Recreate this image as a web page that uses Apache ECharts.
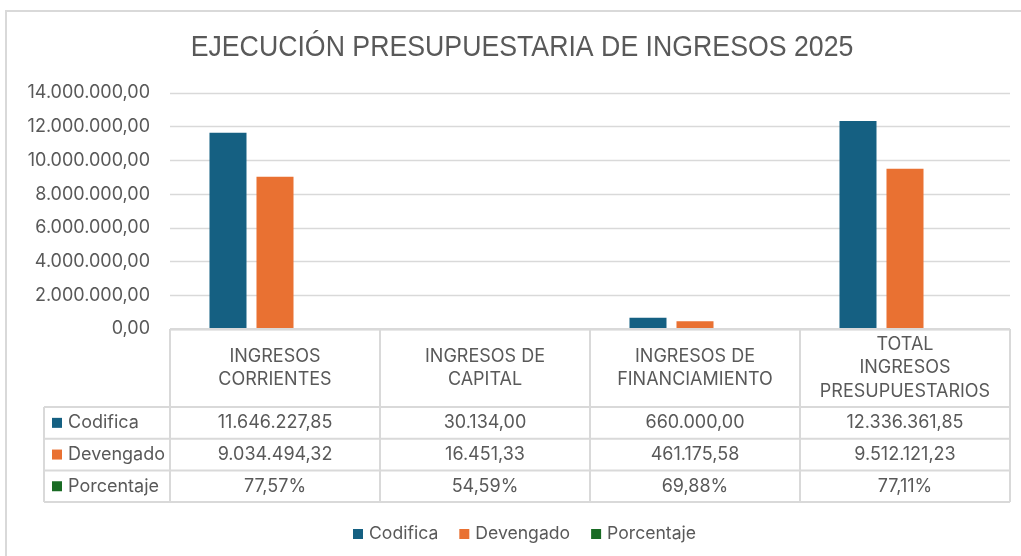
<!DOCTYPE html>
<html>
<head>
<meta charset="utf-8">
<script src="https://cdn.jsdelivr.net/npm/echarts@6/dist/echarts.min.js"></script>
<style>
  html, body { margin: 0; padding: 0; background: #fff; }
  #main { width: 1021px; height: 556px; }
</style>
</head>
<body>
<div id="main"></div>
<script>
// data
const categories = ['INGRESOS\nCORRIENTES', 'INGRESOS DE\nCAPITAL', 'INGRESOS DE\nFINANCIAMIENTO', 'TOTAL\nINGRESOS\nPRESUPUESTARIOS'];
const codifica = [11646227.85, 30134.00, 660000.00, 12336361.85];
const devengado = [9034494.32, 16451.33, 461175.58, 9512121.23];
const porcentaje = [0.7757, 0.5459, 0.6988, 0.7711];
const seriesNames = ['Codifica', 'Devengado', 'Porcentaje'];
const colors = ['#156082', '#E97132', '#196B24'];
const yMax = 14000000;
const yStep = 2000000;
const titleText = 'EJECUCIÓN PRESUPUESTARIA DE INGRESOS 2025';

const TXT = '#595959';
const LINE = '#d9d9d9';
const FONT = 'Inter, sans-serif';
const FS = 18;

function fmtNum(v) {
  const [i, d] = Math.abs(v).toFixed(2).split('.');
  return i.replace(/\B(?=(\d{3})+(?!\d))/g, '.') + ',' + d;
}
function fmtPct(v) {
  return (v * 100).toFixed(2).replace('.', ',') + '%';
}

const chart = echarts.init(document.getElementById('main'));
const values = [codifica, devengado, porcentaje];

chart.setOption({
  backgroundColor: '#fff',
  animation: false,
  color: colors,
  legend: {
    data: seriesNames,
    left: 348,
    top: 520,
    icon: 'rect',
    itemWidth: 10,
    itemHeight: 10,
    itemGap: 21,
    textStyle: { color: TXT, fontSize: 17.6, fontFamily: FONT, padding: [0, 0, 0, 1] }
  },
  grid: { left: 170, right: 11, top: 93, bottom: 227, containLabel: false },
  xAxis: {
    type: 'category',
    data: categories,
    axisLine: { show: false },
    axisTick: { show: false },
    axisLabel: { show: false }
  },
  yAxis: {
    type: 'value',
    min: 0,
    max: yMax,
    interval: yStep,
    axisLine: { show: false },
    axisTick: { show: false },
    axisLabel: { color: TXT, fontSize: FS, fontFamily: FONT, margin: 20, formatter: fmtNum },
    splitLine: { lineStyle: { color: LINE, width: 1.3 } }
  },
  series: seriesNames.map((name, k) => ({
    name,
    type: 'bar',
    data: values[k],
    barGap: '27%',
    barCategoryGap: '37.6%'
  }))
});

// data table under the axis, positioned from the category axis
const c0 = chart.convertToPixel({ xAxisIndex: 0 }, 0);
const c1 = chart.convertToPixel({ xAxisIndex: 0 }, 1);
const band = c1 - c0;
const x0 = c0 - band / 2;
const xEnd = x0 + band * categories.length;
const yTop = chart.convertToPixel({ yAxisIndex: 0 }, 0);
const headH = 78;
const rowH = 31.7;
const tableLeft = 44;
const rowsTop = yTop + headH;
const rowsBottom = rowsTop + rowH * seriesNames.length;

const g = [];
const line = (x1, y1, x2, y2, w) => g.push({
  type: 'line', silent: true, z: 10,
  shape: { x1, y1, x2, y2 },
  style: { stroke: LINE, lineWidth: w || 2 }
});

line(x0, yTop + 0.2, xEnd, yTop + 0.2, 2.6);
for (let r = 0; r <= seriesNames.length; r++) {
  line(tableLeft, rowsTop + r * rowH, xEnd, rowsTop + r * rowH);
}
line(tableLeft, rowsTop, tableLeft, rowsBottom);
for (let i = 0; i <= categories.length; i++) {
  line(x0 + i * band, yTop, x0 + i * band, rowsBottom);
}

categories.forEach((cat, i) => {
  g.push({
    type: 'text', silent: true, z: 10,
    style: {
      text: cat, x: x0 + band * (i + 0.5), y: yTop + headH / 2,
      align: 'center', verticalAlign: 'middle',
      fill: TXT, fontSize: FS, fontFamily: FONT, lineHeight: 23.5
    }
  });
});

seriesNames.forEach((name, r) => {
  const cy = rowsTop + rowH * (r + 0.5);
  g.push({
    type: 'rect', silent: true, z: 10,
    shape: { x: 52, y: cy - 5, width: 10, height: 10 },
    style: { fill: colors[r] }
  });
  g.push({
    type: 'text', silent: true, z: 10,
    style: { text: name, x: 68, y: cy, align: 'left', verticalAlign: 'middle', fill: TXT, fontSize: FS, fontFamily: FONT }
  });
  values[r].forEach((v, i) => {
    g.push({
      type: 'text', silent: true, z: 10,
      style: {
        text: r === 2 ? fmtPct(v) : fmtNum(v),
        x: x0 + band * (i + 0.5), y: cy,
        align: 'center', verticalAlign: 'middle',
        fill: TXT, fontSize: FS, fontFamily: FONT
      }
    });
  });
});

// title, horizontally condensed like the original narrow face
g.push({
  type: 'text', silent: true,
  x: 522, y: 48, scaleX: 0.89,
  style: {
    text: titleText, x: 0, y: 0, align: 'center', verticalAlign: 'middle',
    fill: TXT, fontSize: 30, fontFamily: '"Liberation Sans", sans-serif'
  }
});

// chart frame
g.push({
  type: 'rect', silent: true,
  shape: { x: 6, y: 11, width: 1040, height: 600 },
  style: { fill: 'none', stroke: LINE, lineWidth: 2 }
});

chart.setOption({ graphic: g });
</script>
</body>
</html>
